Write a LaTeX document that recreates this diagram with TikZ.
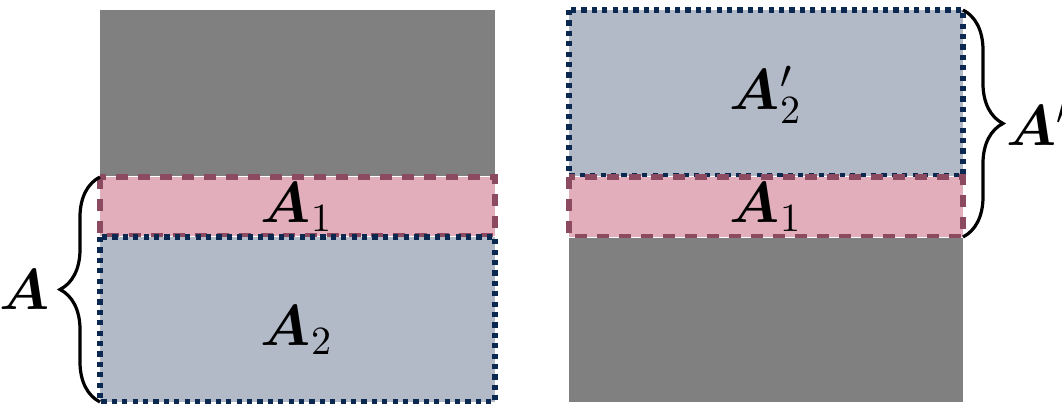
\documentclass[tikz,border=0pt]{standalone}
\usepackage{amsmath,bm}
\usetikzlibrary{decorations.pathreplacing}
\definecolor{boxgray}{HTML}{808080}
\definecolor{boxpink}{HTML}{E2AEBB}
\definecolor{boxblue}{HTML}{B2B9C7}
\definecolor{edgepink}{HTML}{8B4A60}
\definecolor{edgeblue}{HTML}{0A2850}
\tikzset{
  pinkpart/.style={fill=boxpink, draw=edgepink, line width=1.3pt, dash pattern=on 3pt off 2.5pt},
  bluepart/.style={fill=boxblue, draw=edgeblue, line width=1.4pt, dash pattern=on 1.3pt off 1.3pt},
  partlabel/.style={font=\Large},
  bracelabel/.style={font=\Large}
}
\begin{document}
\begin{tikzpicture}[x=0.25pt,y=-0.25pt]
\useasboundingbox (0,0) rectangle (1062,404);

% left stack
\fill[boxgray] (100,10) rectangle (495,176);
\filldraw[pinkpart] (100,177) rectangle (495,236);
\filldraw[bluepart] (100,237) rectangle (495,402);
\node[partlabel] (la1) at (297,207) {$\bm{A}_1$};
\node[partlabel] (la2) at (297,330) {$\bm{A}_2$};

% right stack
\filldraw[bluepart] (569,10) rectangle (963,176);
\filldraw[pinkpart] (569,177) rectangle (963,237);
\fill[boxgray] (569,238) rectangle (963,402);
\node[partlabel] (ra2) at (766,95) {$\bm{A}_2'$};
\node[partlabel] (ra1) at (766,207) {$\bm{A}_1$};

% braces
\coordinate (lb1) at (100,402);
\coordinate (lb2) at (100,177);
\coordinate (rb1) at (963,10);
\coordinate (rb2) at (963,237);
\draw[thick, decorate, decoration={brace, amplitude=10pt}] (lb1) -- (lb2);
\draw[thick, decorate, decoration={brace, amplitude=10pt}] (rb1) -- (rb2);
\node[bracelabel, anchor=east] (la) at (64,290) {$\bm{A}$};
\node[bracelabel, anchor=west] (ra) at (992,124) {$\bm{A}'$};

\end{tikzpicture}
\end{document}
